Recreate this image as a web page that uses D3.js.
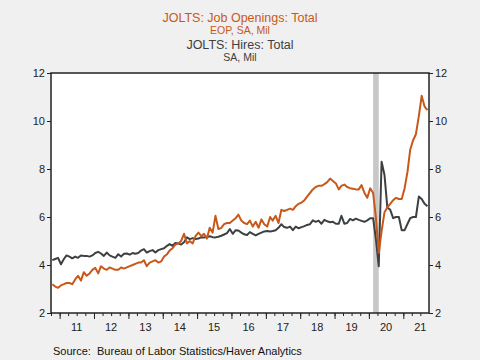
<!DOCTYPE html>
<html>
<head>
<meta charset="utf-8">
<script src="https://cdn.jsdelivr.net/npm/d3@7"></script>
<style>
  body { margin: 0; background: #f0f0f0; }
  svg { display: block; font-family: "Liberation Sans", Arial, sans-serif; }
</style>
</head>
<body>
<div id="chart"></div>
<script>
// monthly values, Oct 2010 .. Sep 2021
const startMonth = new Date(2010, 9, 1);

const jobOpenings = [
  3.2, 3.1, 3.05,
  3.15, 3.2, 3.25, 3.25, 3.2, 3.4, 3.55, 3.35, 3.7, 3.55, 3.65, 3.8,
  3.88, 3.65, 3.95, 3.85, 3.8, 3.9, 3.85, 3.8, 3.8, 3.9, 3.85, 3.9,
  3.95, 4.0, 4.05, 4.1, 4.1, 4.2, 3.95, 4.1, 4.15, 4.2, 4.1, 4.15,
  4.35, 4.45, 4.6, 4.7, 4.85, 4.9, 5.0, 5.3, 4.9, 5.0, 4.9, 5.2,
  5.35, 5.2, 5.3, 5.1, 5.55, 5.35, 6.05, 5.5, 5.55, 5.7, 5.75, 5.75,
  5.85, 5.95, 6.1, 5.85, 5.75, 5.7, 5.85, 5.6, 5.8, 5.55, 5.9, 5.7,
  5.6, 6.0, 5.85, 6.05, 5.75, 6.3, 6.25, 6.3, 6.35, 6.3, 6.45, 6.55,
  6.6, 6.7, 6.85, 7.0, 7.15, 7.25, 7.3, 7.3, 7.37, 7.45, 7.6, 7.5,
  7.4, 7.15, 7.3, 7.35, 7.25, 7.2, 7.18, 7.15, 7.15, 7.33, 7.0, 6.8,
  7.2, 7.0, 6.0, 4.5, 5.4, 6.2, 6.4, 6.55, 6.7, 6.8, 6.75, 6.75,
  7.2, 7.9, 8.8, 9.2, 9.45, 10.2, 11.05, 10.6, 10.45
];

const hires = [
  4.2, 4.25, 4.3,
  4.03, 4.25, 4.4, 4.35, 4.28, 4.35, 4.3, 4.4, 4.38, 4.38, 4.35, 4.4,
  4.5, 4.55, 4.48, 4.38, 4.52, 4.4, 4.35, 4.3, 4.45, 4.35, 4.47, 4.48,
  4.43, 4.5, 4.47, 4.5, 4.6, 4.66, 4.52, 4.58, 4.62, 4.52, 4.62, 4.66,
  4.7, 4.8, 4.87, 4.8, 4.92, 4.9, 4.85, 4.95, 5.15, 5.08, 5.12, 5.08,
  5.1, 5.16, 5.15, 5.17, 5.2, 5.16, 5.15, 5.18, 5.22, 5.27, 5.33, 5.5,
  5.3, 5.45, 5.44, 5.35, 5.28, 5.25, 5.37, 5.3, 5.23, 5.3, 5.35, 5.4,
  5.42, 5.4, 5.42, 5.45, 5.55, 5.7, 5.58, 5.55, 5.6, 5.45, 5.6, 5.53,
  5.58, 5.62, 5.67, 5.7, 5.86, 5.8, 5.85, 5.72, 5.88, 5.82, 5.78, 5.8,
  5.72, 5.72, 6.05, 5.72, 5.75, 5.92, 5.86, 5.93, 5.88, 5.84, 5.8, 5.86,
  5.95, 5.95, 5.1, 3.95, 8.3, 7.75, 6.4, 6.3, 5.95, 6.0, 6.0, 5.45,
  5.45, 5.72, 5.95, 6.0, 6.0, 6.85, 6.75, 6.55, 6.45
];

const yTicks = [2, 4, 6, 8, 10, 12];
const yearLabels = ["11", "12", "13", "14", "15", "16", "17", "18", "19", "20", "21"];
const recession = [new Date(2020, 1, 15), new Date(2020, 3, 15)];

const openingsColor = "#c8581a",
    hiresColor = "#3c4043";

const margin = {top: 73, left: 51, right: 51, bottom: 47};
const width = 480 - margin.left - margin.right,
    height = 360 - margin.top - margin.bottom;

const svg = d3.select("#chart")
    .append("svg")
    .attr("width", 480)
    .attr("height", 360);

// titles
const titles = [
    {text: "JOLTS: Job Openings: Total", y: 22, size: 12.5, color: openingsColor},
    {text: "EOP, SA, Mil", y: 33.5, size: 10.5, color: openingsColor},
    {text: "JOLTS: Hires: Total", y: 49, size: 12.5, color: "#404040"},
    {text: "SA, Mil", y: 60.5, size: 10.5, color: "#404040"}
];
svg.selectAll(".title")
    .data(titles)
    .enter()
    .append("text")
    .attr("class", "title")
    .attr("x", 240)
    .attr("y", d => d.y)
    .attr("text-anchor", "middle")
    .attr("font-size", d => d.size)
    .attr("fill", d => d.color)
    .text(d => d.text);

const gr = svg.append("g")
    .attr("transform", "translate(" + margin.left + "," + margin.top + ")");

gr.append("rect")
    .attr("width", width)
    .attr("height", height)
    .attr("fill", "#fff");

const monthDate = i => new Date(startMonth.getFullYear(), startMonth.getMonth() + i, 15);

const xScale = d3.scaleTime()
    .domain([new Date(2010, 9, 1), new Date(2021, 9, 1)])
    .range([0, width]);

const yScale = d3.scaleLinear()
    .domain([2, 12])
    .range([height, 0]);

// recession shading
gr.append("rect")
    .attr("x", xScale(recession[0]))
    .attr("width", xScale(recession[1]) - xScale(recession[0]))
    .attr("y", 0)
    .attr("height", height)
    .attr("fill", "#c8c8c8");

const line = d3.line()
    .x((d, i) => xScale(monthDate(i)))
    .y(d => yScale(d));

gr.append("path")
    .datum(hires)
    .attr("d", line)
    .attr("fill", "none")
    .attr("stroke", hiresColor)
    .attr("stroke-width", 2)
    .attr("stroke-linejoin", "round");

gr.append("path")
    .datum(jobOpenings)
    .attr("d", line)
    .attr("fill", "none")
    .attr("stroke", openingsColor)
    .attr("stroke-width", 2)
    .attr("stroke-linejoin", "round");

// axes
const yAxisL = d3.axisLeft(yScale).tickValues(yTicks).tickSize(4).tickPadding(2);
const yAxisR = d3.axisRight(yScale).tickValues(yTicks).tickSize(4).tickPadding(2);

gr.append("g").attr("class", "axis").call(yAxisL);
gr.append("g").attr("class", "axis")
    .attr("transform", "translate(" + width + ",0)")
    .call(yAxisR);

const quarters = d3.timeMonth.every(3).range(xScale.domain()[0], xScale.domain()[1]);
gr.append("g")
    .attr("transform", "translate(0," + height + ")")
    .call(d3.axisBottom(xScale).tickValues(quarters).tickSize(3).tickFormat(""));

const years = d3.timeYear.range(new Date(2011, 0, 1), new Date(2021, 1, 1));
gr.append("g")
    .attr("transform", "translate(0," + height + ")")
    .call(d3.axisBottom(xScale).tickValues(years).tickSize(6).tickFormat(""));

gr.selectAll(".yearLabel")
    .data(yearLabels)
    .enter()
    .append("text")
    .attr("class", "yearLabel")
    .attr("x", (d, i) => xScale(new Date(2011 + i, 6, 1)))
    .attr("y", height + 18)
    .attr("text-anchor", "middle")
    .attr("font-size", 11)
    .attr("fill", "#222")
    .text(d => d);

svg.selectAll(".axis text").attr("font-size", 11).attr("fill", "#222");
svg.selectAll(".domain").remove();
svg.selectAll(".tick line").attr("stroke", "#222");

// frame
gr.append("rect")
    .attr("width", width)
    .attr("height", height)
    .attr("fill", "none")
    .attr("stroke", "#222")
    .attr("stroke-width", 1.5);

svg.append("text")
    .attr("x", 53)
    .attr("y", 355)
    .attr("font-size", 11)
    .attr("fill", "#111")
    .attr("xml:space", "preserve")
    .style("white-space", "pre")
    .text("Source:  Bureau of Labor Statistics/Haver Analytics");
</script>
</body>
</html>
